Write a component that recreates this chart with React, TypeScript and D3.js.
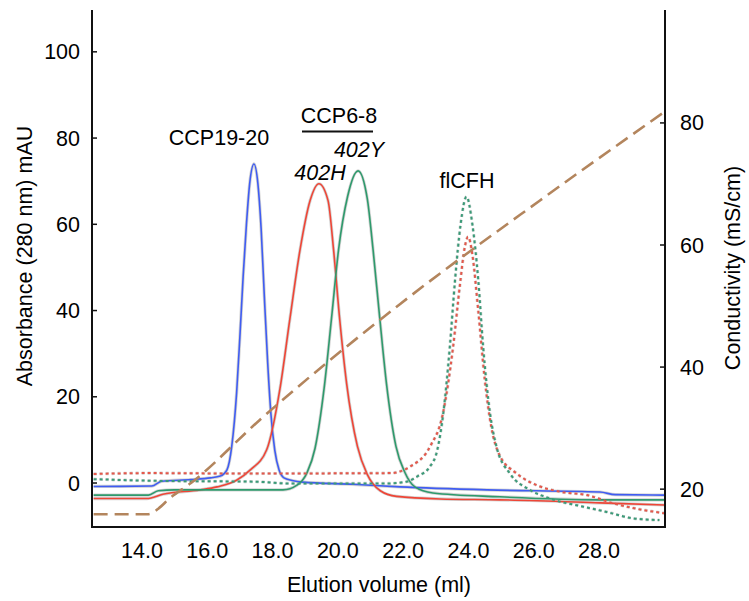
import React, { useEffect, useRef } from 'react'
import * as d3 from 'd3'

// tick labels
const xTicks = [14, 16, 18, 20, 22, 24, 26, 28]
const absTicks = [0, 20, 40, 60, 80, 100]
const condTicks = [20, 40, 60, 80]

// absorbance traces, [elution volume ml, mAU]
const ccp1920 = [
  [12.52, -0.8], [14.3, -0.7], [14.6, 0.4], [15.5, 0.8], [16.1, 1.2], [16.4, 1.6], [16.6, 3.0],
  [16.75, 8.5], [16.9, 21], [17.0, 34], [17.1, 48], [17.2, 60], [17.3, 69.5], [17.43, 74],
  [17.55, 69.5], [17.65, 59], [17.75, 43], [17.85, 28], [17.95, 16], [18.07, 7.5], [18.2, 3],
  [18.35, 1.2], [18.6, 0.6], [18.93, 0.2], [20.46, -0.3], [21.9, -0.9], [24.57, -1.6],
  [28.03, -2.1], [28.5, -2.7], [30.0, -2.8]
]
const ccp68H = [
  [12.52, -3.6], [14.15, -3.6], [14.64, -2.6], [15.78, -1.6], [16.3, -0.9], [16.91, 0.7],
  [17.31, 3.0], [17.82, 7.7], [18.23, 22], [18.53, 38], [18.84, 54], [19.15, 65.5], [19.42, 69.4],
  [19.7, 65.5], [19.87, 54], [20.05, 38.5], [20.27, 23], [20.6, 8.5], [20.9, 2],
  [21.3, -1.8], [21.8, -3.1], [23.13, -3.7], [24.96, -3.9], [28.03, -4.6], [30.0, -5.1]
]
const ccp68Y = [
  [12.52, -2.8], [14.2, -2.8], [14.5, -1.8], [15.0, -1.6], [18.32, -1.6], [18.75, -0.5],
  [19.05, 2.3], [19.3, 8], [19.58, 22], [19.81, 38.5], [20.02, 54], [20.3, 66.5], [20.62, 72.4],
  [20.9, 66], [21.08, 54], [21.28, 38.5], [21.49, 23], [21.78, 8.5], [22.05, 2.5],
  [22.36, -0.9], [22.91, -2.3], [24.96, -3.2], [28.03, -3.9], [30.0, -3.9]
]
const flcfhH = [
  [12.52, 2.1], [14.2, 2.3], [17.0, 2.2], [21.6, 2.3], [22.21, 3.8], [22.82, 8.4],
  [23.22, 16.2], [23.53, 31.6], [23.74, 46], [23.89, 54.8], [23.99, 57.1],
  [24.12, 53], [24.3, 40], [24.5, 24], [24.7, 13], [24.95, 6.5], [25.48, 2.2], [26.09, -0.5],
  [26.8, -2], [27.63, -2.8], [28.43, -4.7], [29.04, -5.8], [30.0, -7]
]
const flcfhY = [
  [12.52, 0.9], [14.46, 0.5], [17.5, 0.3], [18.5, -0.1], [21.5, -0.1], [22.1, 0.3],
  [22.45, 1.6], [22.8, 3.6], [23.05, 7.8], [23.23, 16.2], [23.43, 31.6], [23.59, 47.1],
  [23.76, 60], [23.94, 66.4], [24.12, 60], [24.3, 47.1], [24.45, 31.6], [24.66, 16.2],
  [24.86, 8.4], [25.27, 2.2], [25.88, -1.6], [26.5, -3.6], [27.52, -5.5], [28.23, -6.7],
  [29.04, -8.2], [29.85, -8.6]
]
// conductivity trace, [elution volume ml, mS/cm]
const conductivity = [
  [12.52, 15.9], [14.2, 15.9], [14.5, 16.8], [14.85, 18.5], [15.5, 21.0],
  [17.6, 31.3], [21.9, 50.3], [26.19, 67.3], [30.0, 81.8]
]

const App = () => {
  const ref = useRef<SVGSVGElement>(null)

  useEffect(() => {
    document.body.style.margin = '0'
    const svg = d3.select(ref.current)
    svg.selectAll('*').remove()

    const left = 92, right = 665, top = 10, bottom = 527
    const font = "'Liberation Sans', Arial, Helvetica, sans-serif"

    const x = d3.scaleLinear().domain([12.47, 30.02]).range([left, right])
    const yAbs = d3.scaleLinear().domain([-10.2, 109.7]).range([bottom, top])
    const yCond = d3.scaleLinear().domain([13.8, 98.5]).range([bottom, top])

    const absLine = d3.line<number[]>()
      .x(d => x(d[0]))
      .y(d => yAbs(d[1]))
      .curve(d3.curveMonotoneX)
    const condLine = d3.line<number[]>()
      .x(d => x(d[0]))
      .y(d => yCond(d[1]))
      .curve(d3.curveMonotoneX)

    const traces = [
      { data: ccp1920, color: '#3f5cf2', dash: null },
      { data: ccp68H, color: '#ef4536', dash: null },
      { data: ccp68Y, color: '#2e9a6c', dash: null },
      { data: flcfhH, color: '#e5584b', dash: '3,3' },
      { data: flcfhY, color: '#3a9b78', dash: '3,3' }
    ]

    const g = svg.append('g')

    // soft grey halo under every trace
    traces.forEach(t => {
      g.append('path')
        .attr('d', absLine(t.data as number[][]))
        .attr('fill', 'none')
        .attr('stroke', '#d4d4d4')
        .attr('stroke-width', 3.2)
        .attr('stroke-dasharray', t.dash)
    })
    traces.forEach(t => {
      g.append('path')
        .attr('d', absLine(t.data as number[][]))
        .attr('fill', 'none')
        .attr('stroke', t.color)
        .attr('stroke-width', t.dash ? 2 : 1.6)
        .attr('stroke-dasharray', t.dash)
    })

    g.append('path') // conductivity
      .attr('d', condLine(conductivity as number[][]))
      .attr('fill', 'none')
      .attr('stroke', '#b3855d')
      .attr('stroke-width', 2.6)
      .attr('stroke-dasharray', '14,7')

    // axes frame
    const axisColor = '#111'
    g.append('path')
      .attr('d', `M${left},${top}V${bottom}H${right}V${top}`)
      .attr('fill', 'none')
      .attr('stroke', axisColor)
      .attr('stroke-width', 2)

    absTicks.forEach(t => {
      g.append('line')
        .attr('x1', left).attr('x2', left + 5)
        .attr('y1', yAbs(t)).attr('y2', yAbs(t))
        .attr('stroke', axisColor).attr('stroke-width', 1.5)
      g.append('text')
        .attr('x', 80).attr('y', yAbs(t))
        .attr('dy', '0.35em')
        .attr('text-anchor', 'end')
        .attr('font-family', font).attr('font-size', 21.5)
        .text(t)
    })

    condTicks.forEach(t => {
      g.append('line')
        .attr('x1', right - 5).attr('x2', right)
        .attr('y1', yCond(t)).attr('y2', yCond(t))
        .attr('stroke', axisColor).attr('stroke-width', 1.5)
      g.append('text')
        .attr('x', 680).attr('y', yCond(t))
        .attr('dy', '0.35em')
        .attr('text-anchor', 'start')
        .attr('font-family', font).attr('font-size', 21.5)
        .text(t)
    })

    xTicks.forEach(t => {
      g.append('text')
        .attr('x', x(t)).attr('y', 558)
        .attr('text-anchor', 'middle')
        .attr('font-family', font).attr('font-size', 21.5)
        .text(t.toFixed(1))
    })

    // axis titles
    g.append('text')
      .attr('x', 379).attr('y', 592)
      .attr('text-anchor', 'middle')
      .attr('font-family', font).attr('font-size', 21.5)
      .text('Elution volume (ml)')
    g.append('text')
      .attr('transform', 'translate(32,256) rotate(-90)')
      .attr('text-anchor', 'middle')
      .attr('font-family', font).attr('font-size', 21.5)
      .text('Absorbance (280 nm) mAU')
    g.append('text')
      .attr('transform', 'translate(740,268) rotate(-90)')
      .attr('text-anchor', 'middle')
      .attr('font-family', font).attr('font-size', 21.5)
      .text('Conductivity (mS/cm)')

    // peak annotations
    const label = (tx: number, ty: number, s: string, italic = false) =>
      g.append('text')
        .attr('x', tx).attr('y', ty)
        .attr('text-anchor', 'middle')
        .attr('font-family', font).attr('font-size', 21.5)
        .attr('font-style', italic ? 'italic' : 'normal')
        .text(s)
    label(219, 145, 'CCP19-20')
    label(339, 123, 'CCP6-8')
    g.append('line')
      .attr('x1', 302).attr('x2', 373)
      .attr('y1', 131.5).attr('y2', 131.5)
      .attr('stroke', '#111').attr('stroke-width', 2)
    label(359, 157, '402Y', true)
    label(320, 180, '402H', true)
    label(467, 188, 'flCFH')
  }, [])

  return (
    <svg ref={ref} width={749} height={601} style={{ display: 'block', background: '#fff' }} />
  )
}

export default App
